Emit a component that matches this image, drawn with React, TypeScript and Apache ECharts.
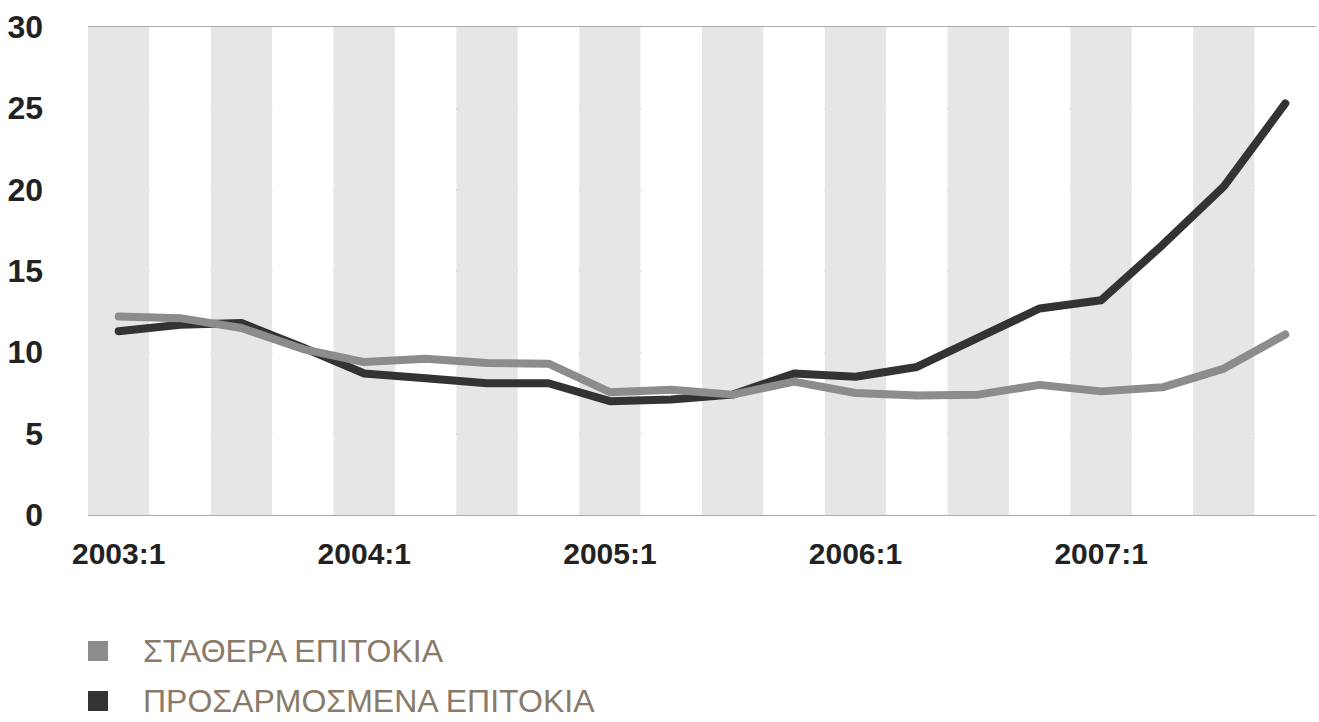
import React, { useEffect, useRef } from "react";
import * as echarts from "echarts";

const categories: string[] = [
  "2003:1", "2003:2", "2003:3", "2003:4",
  "2004:1", "2004:2", "2004:3", "2004:4",
  "2005:1", "2005:2", "2005:3", "2005:4",
  "2006:1", "2006:2", "2006:3", "2006:4",
  "2007:1", "2007:2", "2007:3", "2007:4",
];

const fixedRates: number[] = [
  12.2, 12.1, 11.5, 10.2, 9.4, 9.6, 9.35, 9.3, 7.55, 7.7,
  7.4, 8.2, 7.5, 7.35, 7.4, 8.0, 7.6, 7.85, 9.0, 11.1,
];

const adjustableRates: number[] = [
  11.3, 11.7, 11.8, 10.3, 8.7, 8.4, 8.1, 8.1, 7.0, 7.1,
  7.4, 8.7, 8.5, 9.1, 10.9, 12.7, 13.2, 16.6, 20.2, 25.3,
];

const seriesNames: string[] = ["ΣΤΑΘΕΡΑ ΕΠΙΤΟΚΙΑ", "ΠΡΟΣΑΡΜΟΣΜΕΝΑ ΕΠΙΤΟΚΙΑ"];

const FONT = '"Liberation Sans", Arial, sans-serif';

const legendBase = {
  orient: "horizontal",
  left: 88,
  padding: 0,
  icon: "rect",
  itemWidth: 20,
  itemHeight: 20,
  selectedMode: false,
  textStyle: {
    fontFamily: FONT,
    fontSize: 32,
    lineHeight: 32,
    color: "#8a7a69",
    padding: [0, 0, 0, 30],
  },
};

export default function App() {
  const ref = useRef<HTMLDivElement>(null);

  useEffect(() => {
    if (!ref.current) return;
    const chart = echarts.init(ref.current, undefined, { renderer: "svg" });
    chart.setOption({
      animation: false,
      backgroundColor: "#ffffff",
      grid: { left: 88, right: 3, top: 27, bottom: 207, containLabel: false },
      legend: [
        { ...legendBase, top: 635, data: [seriesNames[0]] },
        { ...legendBase, top: 685, data: [seriesNames[1]] },
      ],
      xAxis: {
        type: "category",
        data: categories,
        boundaryGap: true,
        axisLine: { show: false },
        axisTick: { show: false },
        axisLabel: {
          interval: 3,
          margin: 23,
          fontFamily: FONT,
          fontWeight: "bold",
          fontSize: 30,
          color: "#222222",
        },
        splitLine: { show: false },
        splitArea: {
          show: true,
          interval: 0,
          areaStyle: { color: ["#e6e6e6", "#ffffff"] },
        },
      },
      yAxis: {
        type: "value",
        min: 0,
        max: 30,
        interval: 5,
        axisLine: { show: false },
        axisTick: { show: false },
        axisLabel: {
          margin: 45,
          fontFamily: FONT,
          fontWeight: "bold",
          fontSize: 32,
          color: "#222222",
        },
        splitLine: { show: true, lineStyle: { color: "#8f8f8f", width: 1.5 } },
      },
      series: [
        {
          name: seriesNames[1],
          type: "line",
          data: adjustableRates,
          showSymbol: false,
          symbol: "none",
          itemStyle: { color: "#333333" },
          lineStyle: { color: "#333333", width: 8, cap: "round", join: "round" },
          z: 2,
        },
        {
          name: seriesNames[0],
          type: "line",
          data: fixedRates,
          showSymbol: false,
          symbol: "none",
          itemStyle: { color: "#8c8c8c" },
          lineStyle: { color: "#8c8c8c", width: 8, cap: "round", join: "round" },
          z: 3,
        },
      ],
    });
    return () => chart.dispose();
  }, []);

  return (
    <div
      ref={ref}
      style={{ position: "fixed", left: 0, top: 0, width: 1319, height: 722 }}
    />
  );
}
